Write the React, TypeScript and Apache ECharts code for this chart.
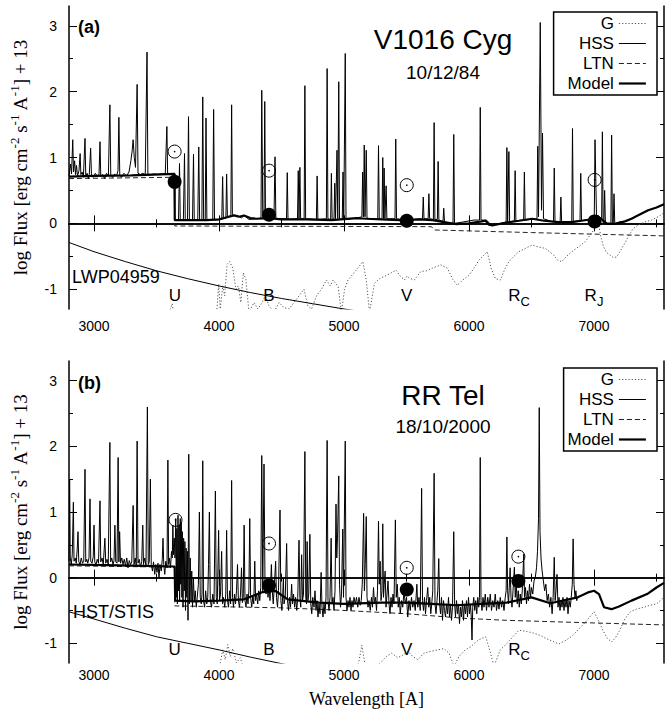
import React, { useEffect, useRef } from "react";
import * as echarts from "echarts";

// ---------- tick values ----------
const xMajor = [3000, 4000, 5000, 6000, 7000];
const xMinor = [3500, 4500, 5500, 6500, 7500];
const yMajor = [-1, 0, 1, 2, 3];
const yMinor = [-0.5, 0.5, 1.5, 2.5];

// ---------- panel (a): V1016 Cyg ----------
const obsA = [
  2800, 0.72, 2812, 0.9, 2820, 0.75, 2830, 1.27, 2836, 0.78, 2845, 0.95, 2852, 0.74, 2860, 0.88, 2868, 0.72,
  2880, 0.8, 2889, 1.06, 2895, 0.74, 2905, 0.78, 2915, 0.7, 2928, 1.29, 2934, 0.72, 2945, 0.76, 2955, 0.68,
  2962, 0.74, 2973, 1.14, 2980, 0.72, 2995, 0.7, 3010, 0.76, 3025, 0.72, 3040, 0.74, 3048, 1.24, 3054, 0.72,
  3070, 0.74, 3085, 0.68, 3100, 0.76, 3115, 0.72, 3127, 1.8, 3134, 0.73, 3150, 0.7, 3165, 0.75, 3180, 0.72,
  3192, 0.8, 3199, 1.61, 3206, 0.74, 3220, 0.7, 3240, 0.76, 3260, 0.72, 3280, 0.78, 3295, 0.95, 3305, 1.1,
  3313, 1.27, 3322, 1.0, 3332, 0.85, 3345, 2.11, 3352, 0.76, 3370, 0.74, 3390, 0.76, 3410, 0.74, 3424, 2.6,
  3431, 0.75, 3450, 0.74, 3480, 0.75, 3510, 0.74, 3540, 0.75, 3570, 0.75, 3583, 1.47, 3589, 0.75, 3620, 0.75,
  3640, 0.75, 3645, 0.06, 3660, 0.05, 3676, 0.05, 3684, 0.91, 3690, 0.05, 3715, 0.05, 3724, 1.06, 3730, 0.05,
  3748, 0.05, 3756, 1.62, 3763, 0.05, 3788, 0.05, 3796, 1.05, 3802, 0.05, 3830, 0.05, 3838, 1.16, 3845, 0.05,
  3863, 0.05, 3870, 1.92, 3877, 0.05, 3890, 0.05, 3896, 1.6, 3903, 0.05, 3950, 0.05, 3957, 1.73, 3964, 0.05,
  4022, 0.06, 4029, 0.71, 4035, 0.07, 4055, 0.08, 4061, 0.75, 4067, 0.1, 4095, 0.12, 4101, 1.8, 4107, 0.13,
  4150, 0.12, 4180, 0.08, 4200, 0.12, 4240, 0.06, 4300, 0.07, 4336, 0.08, 4342, 2.02, 4350, 0.09, 4360, 0.09,
  4366, 1.85, 4372, 0.1, 4440, 0.1, 4448, 1.01, 4455, 0.07, 4540, 0.07, 4546, 0.77, 4552, 0.06, 4628, 0.07,
  4634, 0.8, 4640, 0.07, 4647, 0.85, 4653, 0.07, 4681, 0.07, 4687, 2.09, 4693, 0.07, 4779, 0.06, 4785, 0.72,
  4791, 0.06, 4859, 0.07, 4865, 2.35, 4871, 0.07, 4893, 0.06, 4899, 0.76, 4905, 0.06, 4920, 0.07, 4926, 0.61,
  4932, 0.07, 4944, 1.11, 4950, 0.07, 4958, 2.15, 4964, 0.07, 4986, 0.06, 4992, 0.78, 4998, 0.07, 5010, 2.58,
  5016, 0.06, 5100, 0.08, 5143, 0.1, 5149, 0.78, 5155, 0.1, 5162, 1.19, 5168, 0.1, 5178, 1.11, 5184, 0.08,
  5270, 0.06, 5276, 1.18, 5282, 0.07, 5304, 0.07, 5310, 1.0, 5316, 0.07, 5321, 0.84, 5327, 0.07, 5337, 0.57,
  5343, 0.07, 5408, 0.07, 5414, 1.28, 5420, 0.07, 5500, 0.05, 5628, 0.07, 5634, 0.4, 5640, 0.07, 5673, 0.07,
  5679, 0.45, 5685, 0.07, 5715, 0.06, 5721, 1.53, 5727, 0.06, 5747, 0.06, 5753, 0.94, 5759, 0.05, 5792, 0.03,
  5798, 0.23, 5804, 0.02, 5872, 0.0, 5878, 1.35, 5884, 0.0, 5950, 0.02, 6040, 0.05, 6084, 0.05, 6090, 1.76,
  6096, 0.05, 6140, 0.05, 6180, -0.03, 6250, 0.0, 6297, 0.02, 6303, 1.15, 6309, 0.02, 6319, 1.09, 6325, 0.02,
  6363, 0.04, 6369, 0.8, 6375, 0.04, 6437, 0.05, 6443, 0.78, 6449, 0.05, 6544, 0.07, 6550, 1.17, 6556, 0.1,
  6570, 3.05, 6580, 0.2, 6588, 1.37, 6596, 0.07, 6676, 0.02, 6682, 0.84, 6688, 0.02, 6729, 0.02, 6735, 0.4,
  6741, 0.02, 6822, 0.03, 6828, 1.44, 6834, 0.03, 6888, 0.04, 6894, 0.76, 6900, 0.04, 7002, 0.08, 7008, 1.27,
  7020, 0.1, 7035, 0.12, 7061, 0.05, 7067, 1.39, 7073, 0.0, 7079, 0.0, 7085, 0.5, 7091, 0.0, 7135, -0.01,
  7141, 1.34, 7147, -0.01, 7154, -0.01, 7160, 0.45, 7166, 0.0, 7200, 0.02, 7225, 0.03,
];
const modelA = [
  2800, 0.71, 3000, 0.72, 3300, 0.73, 3645, 0.75, 3646, 0.05, 3700, 0.05, 3900, 0.05, 4000, 0.06, 4080, 0.1,
  4120, 0.12, 4160, 0.1, 4200, 0.12, 4250, 0.08, 4300, 0.07, 4400, 0.08, 4500, 0.06, 4700, 0.06, 4900, 0.05,
  5100, 0.08, 5178, 0.07, 5300, 0.06, 5443, 0.05, 5600, 0.06, 5708, 0.05, 5800, 0.02, 5894, -0.01, 6000, 0.0,
  6100, 0.03, 6133, 0.04, 6160, -0.02, 6186, -0.03, 6292, 0.01, 6400, 0.04, 6504, 0.07, 6600, 0.04, 6717, 0.02,
  6823, 0.02, 6900, 0.04, 7008, 0.07, 7050, 0.08, 7100, 0.0, 7167, -0.01, 7247, 0.03, 7300, 0.07, 7350, 0.12,
  7433, 0.2, 7500, 0.24, 7560, 0.29,
];
const ltnA = [2800, 0.68, 3645, 0.7, 3646, -0.04, 5700, -0.05, 5720, -0.1, 6500, -0.14, 7560, -0.19];
const hssA = [2800, -0.29, 3000, -0.43, 3250, -0.58, 3500, -0.72, 3750, -0.84, 4000, -0.95, 4250, -1.05, 4500, -1.14, 4750, -1.22, 5000, -1.3, 5250, -1.37];
const giantA = [
  3590, -1.4, 3615, -1.28, 3625, -1.22, 3640, -1.4, 3980, -1.4, 3998, -0.92, 4010, -1.3, 4030, -0.95, 4045, -1.1,
  4065, -0.62, 4085, -0.58, 4110, -0.68, 4135, -1.0, 4155, -0.95, 4175, -1.2, 4195, -0.75, 4215, -0.85, 4240, -1.35,
  4280, -1.2, 4310, -1.3, 4340, -1.22, 4370, -1.1, 4400, -1.25, 4440, -1.35, 4480, -1.2, 4520, -1.28, 4560, -1.3,
  4600, -1.2, 4640, -1.1, 4680, -1.0, 4710, -1.25, 4740, -1.3, 4780, -1.1, 4820, -1.0, 4860, -0.86, 4890, -0.95,
  4913, -0.86, 4953, -0.96, 4979, -1.35, 5005, -1.0, 5032, -0.86, 5098, -0.71, 5151, -0.58, 5178, -0.86, 5204, -1.35,
  5244, -0.91, 5284, -0.84, 5350, -0.78, 5416, -0.71, 5450, -0.8, 5483, -0.86, 5505, -0.8, 5522, -0.83, 5562, -0.86,
  5615, -0.73, 5660, -0.72, 5708, -0.68, 5774, -0.63, 5827, -0.68, 5870, -0.85, 5907, -0.94, 5950, -0.86, 5999, -0.79,
  6040, -0.68, 6079, -0.56, 6146, -0.43, 6180, -0.7, 6212, -0.84, 6252, -0.86, 6285, -0.7, 6319, -0.58, 6360, -0.5,
  6398, -0.43, 6450, -0.38, 6504, -0.33, 6560, -0.36, 6611, -0.38, 6650, -0.44, 6677, -0.48, 6710, -0.56, 6743, -0.58,
  6780, -0.5, 6823, -0.43, 6880, -0.35, 6929, -0.28, 6980, -0.15, 7035, 0.0, 7055, -0.2, 7075, -0.35, 7100, -0.44,
  7128, -0.48, 7155, -0.52, 7181, -0.51, 7210, -0.42, 7247, -0.3, 7280, -0.18, 7313, -0.08, 7360, -0.02, 7406, 0.02,
  7460, 0.05, 7513, 0.1, 7560, 0.16,
];
const photWaveA = [3645, 4400, 5502, 7005];
const photFluxA = [0.63, 0.13, 0.04, 0.03];
const openWaveA = [3645, 4400, 5502, 7005];
const openFluxA = [1.09, 0.8, 0.58, 0.66];
const bandNamesA = ["U", "B", "V", "R{sub|C}", "R{sub|J}"];
const bandWaveA = [3647, 4400, 5502, 6400, 7000];

// ---------- panel (b): RR Tel ----------
const obsB = [
  2800, 0.25, 2805, 1.5, 2810, 0.3, 2818, 0.2, 2826, 0.35, 2835, 1.15, 2840, 0.25, 2850, 0.3, 2858, 0.22, 2866, 0.45,
  2872, 0.7, 2878, 0.25, 2888, 0.2, 2898, 0.3, 2908, 0.22, 2918, 0.25, 2928, 1.65, 2934, 0.24, 2942, 0.28, 2950, 0.22,
  2960, 0.3, 2968, 1.2, 2974, 0.25, 2984, 0.22, 2994, 0.32, 3000, 0.8, 3006, 0.24, 3016, 0.2, 3026, 0.28, 3036, 0.22,
  3048, 1.17, 3054, 0.24, 3064, 0.3, 3074, 0.2, 3087, 0.6, 3094, 0.22, 3104, 0.28, 3114, 0.2, 3127, 2.06, 3133, 0.24,
  3142, 0.3, 3152, 0.2, 3160, 0.26, 3167, 0.8, 3174, 0.24, 3184, 0.22, 3193, 1.83, 3199, 0.24, 3205, 0.7, 3212, 0.22,
  3222, 0.3, 3232, 0.2, 3242, 0.28, 3252, 0.18, 3262, 0.3, 3272, 0.15, 3282, 0.26, 3292, 0.2, 3302, 0.24, 3313, 1.1,
  3320, 0.2, 3330, 0.3, 3338, 0.18, 3345, 2.08, 3352, 0.22, 3362, 0.28, 3372, 0.16, 3382, 0.25, 3390, 0.8, 3396, 0.2,
  3406, 0.3, 3416, 0.18, 3427, 2.6, 3434, 0.2, 3442, 0.24, 3451, 1.5, 3458, 0.2, 3468, 0.1, 3476, 0.24, 3486, 0.05,
  3494, 0.2, 3504, 0.08, 3512, 0.22, 3520, 0.0, 3528, 0.2, 3538, 0.1, 3546, 0.28, 3552, 0.6, 3558, 0.2, 3566, 0.05,
  3574, 0.25, 3584, 0.15, 3591, 1.79, 3597, 0.2, 3604, 0.3, 3612, 0.15, 3620, 0.4, 3626, 0.3, 3631, 0.8, 3636, 0.35,
  3642, 0.6, 3648, 0.3, 3654, 0.9, 3658, -0.3, 3663, 0.75, 3667, -0.4, 3672, 0.95, 3676, -0.2, 3681, 0.8, 3685, -0.35,
  3690, 0.9, 3694, -0.1, 3698, 0.85, 3703, -0.3, 3707, 0.7, 3712, -0.45, 3717, 0.6, 3722, -0.2, 3727, 0.55, 3732, -0.5,
  3737, 0.45, 3742, -0.3, 3748, 0.4, 3752, -0.65, 3758, 1.88, 3763, -0.4, 3770, 0.3, 3776, -0.35, 3782, 0.1, 3788, -0.45,
  3795, 0.0, 3802, -0.35, 3810, -0.2, 3818, -0.45, 3826, -0.3, 3835, -0.1, 3843, 1.0, 3850, -0.3, 3858, -0.4, 3864, -0.25,
  3870, 1.78, 3876, -0.35, 3885, -0.45, 3893, -0.2, 3902, -0.4, 3910, -0.3, 3916, 0.2, 3923, 1.0, 3930, -0.35, 3940, -0.45,
  3950, -0.25, 3960, -0.4, 3971, 1.32, 3978, -0.3, 3986, -0.4, 3997, 0.72, 4004, -0.35, 4012, -0.25, 4021, 0.4, 4028, -0.4,
  4036, -0.3, 4046, -0.45, 4054, -0.25, 4061, 0.72, 4068, -0.35, 4076, -0.45, 4085, -0.2, 4093, -0.4, 4101, 1.48, 4108, -0.3,
  4116, -0.45, 4124, -0.25, 4132, -0.4, 4140, -0.2, 4148, 0.2, 4155, -0.35, 4164, -0.45, 4172, -0.25, 4180, 0.15, 4187, -0.38,
  4194, -0.3, 4201, 0.8, 4208, -0.35, 4216, -0.45, 4224, -0.25, 4232, -0.4, 4239, -0.2, 4246, 0.9, 4253, -0.3, 4262, -0.45,
  4270, -0.28, 4278, -0.4, 4286, 0.25, 4293, -0.35, 4300, -0.25, 4310, -0.4, 4318, -0.2, 4326, -0.35, 4334, -0.15, 4342, 1.86,
  4350, -0.2, 4360, 1.73, 4368, -0.1, 4376, -0.25, 4384, -0.05, 4392, -0.3, 4400, -0.1, 4408, -0.35, 4419, 0.2, 4426, -0.2,
  4434, -0.4, 4442, -0.15, 4453, 0.25, 4460, -0.3, 4468, -0.45, 4476, -0.2, 4488, 1.03, 4495, -0.35, 4503, -0.5, 4510, -0.25,
  4515, 0.0, 4520, -0.4, 4530, -0.3, 4541, 0.52, 4548, -0.35, 4556, -0.5, 4564, -0.3, 4572, -0.45, 4581, -0.1, 4588, -0.4,
  4596, -0.25, 4605, -0.45, 4613, -0.3, 4622, -0.5, 4630, -0.3, 4640, 0.57, 4647, -0.3, 4654, -0.45, 4661, 0.35, 4668, -0.35,
  4676, -0.25, 4687, 1.92, 4694, -0.3, 4700, -0.4, 4705, 0.55, 4711, -0.35, 4718, -0.25, 4727, 0.66, 4734, -0.4, 4742, -0.55,
  4750, -0.3, 4760, -0.45, 4768, -0.2, 4776, -0.5, 4784, -0.35, 4792, -0.6, 4800, -0.4, 4808, -0.55, 4817, 0.08, 4824, -0.45,
  4832, -0.6, 4840, -0.4, 4848, -0.55, 4856, -0.3, 4865, 2.09, 4872, -0.35, 4880, -0.5, 4888, -0.3, 4897, 0.6, 4904, -0.4,
  4912, -0.3, 4920, -0.5, 4928, -0.2, 4936, 1.12, 4942, 0.3, 4948, 0.6, 4958, 1.55, 4964, -0.1, 4972, -0.45, 4980, -0.25,
  4990, 0.74, 4996, -0.3, 5010, 2.08, 5016, -0.3, 5024, -0.5, 5032, -0.35, 5040, -0.45, 5048, -0.3, 5056, -0.5, 5064, -0.35,
  5072, -0.45, 5080, -0.3, 5090, -0.4, 5100, -0.3, 5110, -0.45, 5120, -0.3, 5130, -0.42, 5138, -0.35, 5146, -0.1, 5157, 0.98,
  5163, -0.2, 5170, 0.2, 5178, 0.93, 5184, -0.3, 5192, -0.45, 5200, -0.35, 5210, -0.5, 5220, -0.3, 5228, -0.45, 5236, -0.15,
  5244, -0.4, 5252, -0.3, 5260, -0.5, 5268, -0.2, 5276, 0.86, 5282, -0.1, 5289, 0.25, 5296, -0.35, 5304, -0.2, 5310, 0.82,
  5316, -0.3, 5322, -0.1, 5329, 0.1, 5336, -0.45, 5344, -0.25, 5352, -0.05, 5360, -0.4, 5368, -0.55, 5376, -0.3, 5384, -0.45,
  5392, -0.25, 5400, -0.4, 5411, 0.88, 5418, -0.3, 5426, -0.1, 5434, -0.45, 5442, -0.3, 5450, -0.55, 5460, -0.35, 5470, -0.45,
  5480, -0.2, 5490, -0.4, 5500, -0.3, 5510, -0.6, 5520, -0.35, 5530, -0.5, 5540, -0.3, 5550, -0.45, 5560, -0.35, 5570, -0.5,
  5583, -0.1, 5590, -0.45, 5600, -0.3, 5610, -0.5, 5621, 1.36, 5628, -0.35, 5636, -0.5, 5644, -0.3, 5652, -0.55, 5660, -0.35,
  5670, -0.15, 5678, -0.45, 5686, -0.3, 5694, -0.55, 5702, -0.4, 5710, -0.2, 5721, 1.59, 5728, -0.4, 5736, -0.55, 5744, -0.35,
  5750, -0.2, 5758, 0.29, 5765, -0.4, 5772, -0.55, 5780, -0.3, 5788, -0.65, 5796, -0.35, 5804, -0.5, 5812, -0.6, 5820, -0.4,
  5828, -0.55, 5836, -0.3, 5844, -0.6, 5852, -0.4, 5860, -0.65, 5868, -0.45, 5878, 0.7, 5885, -0.4, 5892, -0.6, 5900, -0.35,
  5908, -0.55, 5916, -0.4, 5924, -0.7, 5932, -0.45, 5940, -0.6, 5948, -0.35, 5956, -0.65, 5964, -0.4, 5972, -0.55, 5980, -0.35,
  5988, -0.6, 5996, -0.3, 6004, -0.55, 6012, -0.4, 6018, -0.6, 6024, -0.95, 6030, -0.45, 6038, -0.3, 6046, -0.5, 6054, -0.35,
  6062, -0.55, 6070, -0.3, 6078, -0.45, 6084, -0.3, 6090, 1.83, 6096, -0.35, 6104, -0.5, 6112, -0.3, 6120, -0.45, 6130, -0.25,
  6140, -0.5, 6150, -0.3, 6160, -0.45, 6170, -0.25, 6180, -0.5, 6190, -0.35, 6200, -0.45, 6210, -0.25, 6220, -0.5, 6230, -0.35,
  6240, -0.48, 6250, -0.3, 6260, -0.45, 6270, -0.35, 6280, -0.5, 6290, -0.3, 6297, -0.2, 6303, 0.62, 6309, -0.2, 6316, -0.4,
  6322, -0.15, 6329, 0.15, 6336, -0.3, 6344, -0.45, 6352, -0.2, 6363, 0.16, 6370, -0.3, 6378, -0.1, 6386, -0.4, 6394, -0.2,
  6402, -0.45, 6410, -0.25, 6418, -0.4, 6426, -0.2, 6438, 0.36, 6444, -0.3, 6452, -0.15, 6460, -0.4, 6468, -0.2, 6476, -0.35,
  6484, -0.1, 6492, -0.3, 6500, -0.15, 6510, -0.25, 6520, -0.05, 6530, 0.0, 6540, 0.15, 6548, 0.4, 6556, 0.9, 6562, 2.59,
  6568, 0.7, 6576, 0.3, 6585, 0.1, 6595, -0.05, 6605, -0.2, 6615, -0.1, 6625, -0.35, 6635, -0.25, 6645, -0.45, 6655, -0.3,
  6665, -0.55, 6673, -0.3, 6682, 0.31, 6689, -0.35, 6696, -0.2, 6704, 0.05, 6712, -0.45, 6720, -0.3, 6728, -0.5, 6736, -0.35,
  6744, -0.45, 6752, -0.3, 6760, -0.5, 6768, -0.35, 6776, -0.45, 6784, -0.3, 6792, -0.55, 6800, -0.35, 6810, -0.45, 6818, -0.3,
  6826, -0.1, 6833, 0.59, 6840, -0.1, 6848, -0.3, 6855, -0.2, 6862, -0.35, 6867, -0.3,
];
const modelB = [
  2800, 0.2, 3100, 0.19, 3400, 0.18, 3645, 0.17, 3650, -0.35, 3800, -0.36, 4000, -0.35, 4200, -0.33, 4350, -0.22,
  4450, -0.2, 4550, -0.33, 4800, -0.38, 5000, -0.4, 5300, -0.38, 5500, -0.38, 5700, -0.4, 5900, -0.42, 6100, -0.4,
  6300, -0.38, 6500, -0.3, 6650, -0.39, 6870, -0.3, 6960, -0.22, 7000, -0.2, 7040, -0.25, 7080, -0.45, 7140, -0.48,
  7200, -0.44, 7300, -0.35, 7425, -0.25, 7500, -0.15, 7560, -0.08,
];
const ltnB = [2800, 0.18, 3645, 0.16, 3646, -0.43, 4500, -0.46, 4905, -0.49, 5500, -0.55, 5966, -0.62, 6300, -0.65, 7000, -0.69, 7560, -0.72];
const hssB = [2800, -0.52, 3000, -0.63, 3250, -0.77, 3500, -0.9, 3750, -1.0, 4000, -1.1, 4250, -1.21, 4500, -1.31, 4750, -1.4];
const giantB = [
  4000, -1.4, 4030, -1.1, 4050, -1.25, 4070, -1.02, 4090, -1.2, 4110, -1.08, 4140, -1.3, 4170, -1.22, 4200, -1.4,
  5100, -1.4, 5117, -1.3, 5143, -1.03, 5170, -1.35, 5230, -1.4, 5300, -1.28, 5340, -1.2, 5382, -1.15, 5430, -1.22,
  5470, -1.18, 5510, -1.12, 5550, -1.2, 5590, -1.25, 5640, -1.15, 5700, -1.12, 5750, -1.1, 5800, -1.08, 5840, -1.15,
  5880, -1.35, 5920, -1.2, 5970, -1.1, 6015, -1.05, 6075, -0.95, 6133, -0.9, 6165, -1.1, 6200, -1.35, 6250, -1.1,
  6305, -1.0, 6350, -0.9, 6400, -0.8, 6460, -0.82, 6510, -0.84, 6570, -0.88, 6620, -0.93, 6670, -0.97, 6720, -1.01,
  6780, -0.95, 6830, -0.88, 6880, -0.78, 6935, -0.67, 7000, -0.52, 7035, -0.65, 7070, -0.8, 7105, -0.92, 7140, -0.98,
  7170, -0.92, 7200, -0.82, 7250, -0.62, 7290, -0.52, 7340, -0.48, 7400, -0.45, 7450, -0.42, 7500, -0.4, 7560, -0.3,
];
const photWaveB = [4400, 5502, 6395];
const photFluxB = [-0.12, -0.18, -0.05];
const openWaveB = [3652, 4400, 5502, 6395];
const openFluxB = [0.88, 0.52, 0.15, 0.32];
const bandNamesB = ["U", "B", "V", "R{sub|C}"];
const bandWaveB = [3645, 4400, 5502, 6400];

const legendNames = ["G", "HSS", "LTN", "Model"];

function pairs(a: number[]): number[][] {
  const r: number[][] = [];
  for (let i = 0; i < a.length; i += 2) r.push([a[i], a[i + 1]]);
  return r;
}
function zip(xs: number[], ys: number[]): number[][] {
  return xs.map((x, i) => [x, ys[i]]);
}

const SANS = "Liberation Sans, Arial, sans-serif";
const SERIF = "Liberation Serif, Times New Roman, serif";

const STYLES: Record<string, any> = {
  G: { color: "#555", width: 1, type: [1.2, 2] },
  HSS: { color: "#000", width: 1 },
  LTN: { color: "#222", width: 1, type: [5, 3] },
  Model: { color: "#000", width: 2.2 },
  Observed: { color: "#000", width: 1 },
};

function axesFor(g: number, withXName: boolean, labelMargin: number) {
  const xs: any[] = [];
  const ys: any[] = [];
  const base = { type: "value", gridIndex: g, min: 2800, max: 7560, splitLine: { show: false } };
  const ybase = { type: "value", gridIndex: g, min: -1.3, max: 3.3, splitLine: { show: false } };
  const frame = { show: true, lineStyle: { color: "#000", width: 1.5 } };
  const tick = (len: number, vals: number[]) => ({
    show: true, inside: true, length: len, customValues: vals, lineStyle: { color: "#000", width: 1 },
  });
  xs.push({
    ...base, position: "bottom", axisLine: frame, axisTick: tick(8, xMajor),
    axisLabel: {
      customValues: xMajor, fontSize: 14, color: "#000", fontFamily: SANS, margin: labelMargin,
      formatter: (v: number) => String(v),
    },
    name: withXName ? "Wavelength [A]" : "", nameLocation: "middle", nameGap: 27,
    nameTextStyle: { fontFamily: SERIF, fontSize: 18, color: "#000" },
  });
  xs.push({ ...base, position: "bottom", axisLine: { show: false }, axisTick: tick(4, xMinor), axisLabel: { show: false } });
  xs.push({ ...base, position: "top", axisLine: frame, axisTick: tick(8, xMajor), axisLabel: { show: false } });
  xs.push({ ...base, position: "top", axisLine: { show: false }, axisTick: tick(4, xMinor), axisLabel: { show: false } });

  ys.push({
    ...ybase, position: "left", axisLine: frame, axisTick: tick(8, yMajor),
    axisLabel: { customValues: yMajor, fontSize: 14, color: "#000", fontFamily: SANS, margin: 12 },
    name: "log Flux [erg cm{sup|-2} s{sup|-1} A{sup|-1}] + 13",
    nameLocation: "middle", nameGap: 36,
    nameTextStyle: {
      fontFamily: SERIF, fontSize: 19, color: "#000",
      rich: { sup: { fontFamily: SERIF, fontSize: 13, color: "#000", padding: [0, 0, 12, 0] } },
    },
  });
  ys.push({ ...ybase, position: "left", axisLine: { show: false }, axisTick: tick(4, yMinor), axisLabel: { show: false } });
  ys.push({ ...ybase, position: "right", axisLine: frame, axisTick: tick(8, yMajor), axisLabel: { show: false } });
  ys.push({ ...ybase, position: "right", axisLine: { show: false }, axisTick: tick(4, yMinor), axisLabel: { show: false } });
  return { xs, ys };
}

function seriesFor(g: number, d: any) {
  const ax = { xAxisIndex: g * 4, yAxisIndex: g * 4 };
  const line = (name: string, data: number[][], z: number) => ({
    type: "line", name, data, ...ax, symbol: "none", showSymbol: false, lineStyle: STYLES[name], z,
    itemStyle: { color: STYLES[name].color }, animation: false, silent: true,
  });
  return [
    line("G", pairs(d.giant), 2),
    line("HSS", pairs(d.hss), 2),
    line("LTN", pairs(d.ltn), 2),
    line("Observed", pairs(d.obs), 3),
    line("Model", pairs(d.model), 4),
    {
      type: "scatter", name: "phot", ...ax, data: zip(d.photWave, d.photFlux), symbol: "circle", symbolSize: 14,
      itemStyle: { color: "#000", opacity: 1 }, z: 5, silent: true,
    },
    {
      type: "scatter", name: "open", ...ax, data: zip(d.openWave, d.openFlux), symbol: "circle", symbolSize: 13,
      itemStyle: { color: "rgba(255,255,255,0)", borderColor: "#000", borderWidth: 1, opacity: 1 }, z: 5, silent: true,
    },
    {
      type: "scatter", name: "openDot", ...ax, data: zip(d.openWave, d.openFlux), symbol: "circle", symbolSize: 1.6,
      itemStyle: { color: "#000", opacity: 1 }, z: 5, silent: true,
    },
    {
      type: "scatter", name: "bands", ...ax,
      data: d.bandWave.map((w: number, i: number) => ({ value: [w, -1.1], name: d.bandNames[i] })),
      symbolSize: 1, itemStyle: { color: "rgba(255,255,255,0)", opacity: 1 }, z: 6, silent: true,
      label: {
        show: true, position: "inside", formatter: (p: any) => p.name,
        fontFamily: SANS, fontSize: 17, color: "#000", textBorderWidth: 0, opacity: 1,
        rich: { sub: { fontFamily: SANS, fontSize: 13, color: "#000", padding: [11, 0, 0, 0] } },
      },
    },
  ];
}

function legendFor(top: number, padLeft: number) {
  return {
    data: legendNames.map((n) => ({ name: n, lineStyle: { width: STYLES[n].width } })),
    orient: "vertical", align: "right", right: 8, top,
    itemWidth: 27, itemHeight: 12, itemGap: 1, padding: [2, 10, 2, padLeft],
    borderColor: "#000", borderWidth: 1.5, backgroundColor: "#fff", selectedMode: false,
    itemStyle: { opacity: 0 },
    textStyle: { fontSize: 17, fontFamily: SANS, color: "#000", lineHeight: 19 },
  };
}

function txt(x: number, y: number, text: string, font: string, align = "left") {
  return {
    type: "text", x, y, z: 10, silent: true,
    style: { text, font, fill: "#000", textAlign: align, textVerticalAlign: "middle", align, verticalAlign: "middle" },
  };
}

export default function App() {
  const ref = useRef<HTMLDivElement>(null);
  useEffect(() => {
    document.body.style.margin = "0";
    if (!ref.current) return;
    const chart = echarts.init(ref.current, null, { renderer: "svg" });
    const a = axesFor(0, false, 10);
    const b = axesFor(1, true, 5);
    const dA = {
      obs: obsA, model: modelA, ltn: ltnA, hss: hssA, giant: giantA, photWave: photWaveA, photFlux: photFluxA,
      openWave: openWaveA, openFlux: openFluxA, bandNames: bandNamesA, bandWave: bandWaveA,
    };
    const dB = {
      obs: obsB, model: modelB, ltn: ltnB, hss: hssB, giant: giantB, photWave: photWaveB, photFlux: photFluxB,
      openWave: openWaveB, openFlux: openFluxB, bandNames: bandNamesB, bandWave: bandWaveB,
    };
    chart.setOption({
      animation: false,
      backgroundColor: "#fff",
      grid: [
        { left: 66, right: 1, top: 6, height: 303 },
        { left: 66, right: 1, top: 361, height: 302 },
      ],
      xAxis: [...a.xs, ...b.xs],
      yAxis: [...a.ys, ...b.ys],
      legend: [legendFor(12, 14), legendFor(368, 4)],
      series: [...seriesFor(0, dA), ...seriesFor(1, dB)],
      graphic: [
        txt(78, 27, "(a)", `bold 18px ${SANS}`),
        txt(443, 39, "V1016 Cyg", `28px ${SANS}`, "center"),
        txt(443, 72, "10/12/84", `19px ${SANS}`, "center"),
        txt(72, 277, "LWP04959", `18px ${SANS}`),
        txt(78, 383, "(b)", `bold 18px ${SANS}`),
        txt(443, 395, "RR Tel", `28px ${SANS}`, "center"),
        txt(443, 426, "18/10/2000", `19px ${SANS}`, "center"),
        txt(73, 612, "HST/STIS", `18px ${SANS}`),
      ],
    });
    return () => chart.dispose();
  }, []);
  return <div ref={ref} style={{ width: 665, height: 719 }} />;
}
